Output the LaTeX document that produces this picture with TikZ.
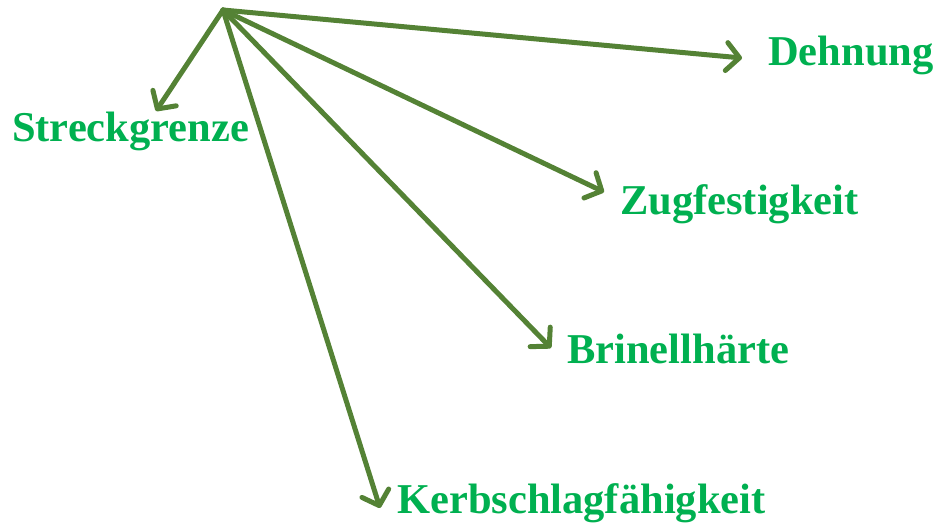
\documentclass[tikz,border=0pt]{standalone}
\usepackage{fontspec}
\setmainfont{Liberation Serif}
\usetikzlibrary{arrows.meta}
\definecolor{labelgreen}{RGB}{0,176,80}
\definecolor{arrowgreen}{RGB}{84,130,53}
\tikzset{
  prop/.style={anchor=base west, inner sep=0pt, text=labelgreen,
    font=\fontsize{42.5}{48}\selectfont\bfseries},
  link/.style={draw=arrowgreen, line width=5pt, line cap=round, line join=round,
    -{Straight Barb[length=13pt,width=28pt,line cap=round,line join=round]}}
}
\begin{document}
\begin{tikzpicture}[x=1pt,y=-1pt]
  \useasboundingbox (0,0) rectangle (939,523);
  % common source point
  \coordinate (src) at (223,10);
  % arrow tips
  \coordinate (tDeh) at (742,58);
  \coordinate (tStr) at (156,111);
  \coordinate (tZug) at (604,192);
  \coordinate (tBri) at (551,348);
  \coordinate (tKer) at (380,508);
  % property labels
  \node[prop] (deh) at (768,65) {Dehnung};
  \node[prop] (str) at (12,141) {Streckgrenze};
  \node[prop] (zug) at (620,214) {Zugfestigkeit};
  \node[prop] (bri) at (567,363) {Brinellhärte};
  \node[prop] (ker) at (397,513) {Kerbschlagfähigkeit};
  % arrows
  \draw[link] (src) -- (tDeh);
  \draw[link] (src) -- (tStr);
  \draw[link] (src) -- (tZug);
  \draw[link] (src) -- (tBri);
  \draw[link] (src) -- (tKer);
\end{tikzpicture}
\end{document}
